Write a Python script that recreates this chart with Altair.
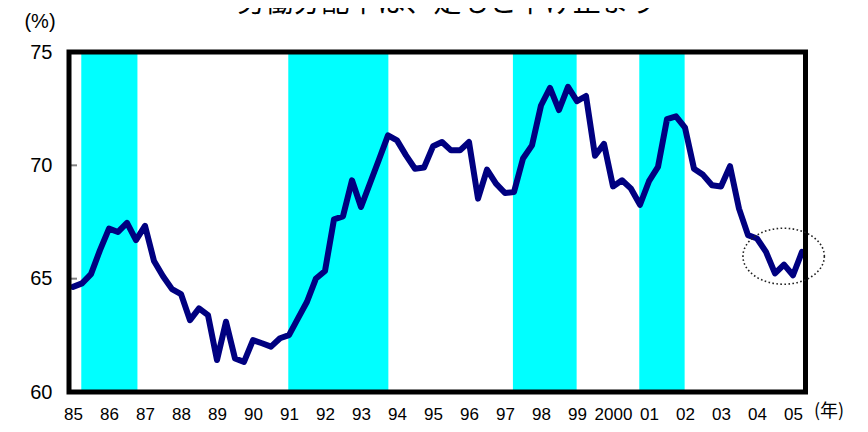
import altair as alt
import pandas as pd

title_text = "労働分配率は、足もと下げ止まり"
y_unit = "(%)"
x_unit = "(年)"

start_year = 1985
share = [64.64, 64.79, 65.20, 66.26, 67.21, 67.06, 67.46, 66.70, 67.33, 65.78,
         65.11, 64.54, 64.32, 63.17, 63.69, 63.39, 61.41, 63.10, 61.48, 61.33,
         62.29, 62.15, 62.00, 62.37, 62.51, 63.25, 63.98, 65.01, 65.34, 67.62,
         67.75, 69.34, 68.16, 69.21, 70.26, 71.32, 71.10, 70.44, 69.85, 69.90,
         70.84, 71.03, 70.66, 70.66, 71.03, 68.53, 69.81, 69.19, 68.78, 68.82,
         70.30, 70.88, 72.64, 73.42, 72.44, 73.46, 72.83, 73.06, 70.42, 70.95,
         69.07, 69.34, 68.97, 68.26, 69.30, 69.93, 72.04, 72.16, 71.66, 69.85,
         69.58, 69.12, 69.07, 69.96, 68.09, 66.92, 66.77, 66.18, 65.23, 65.62,
         65.15, 66.18]
quarters = [f"{start_year + i // 4}Q{i % 4 + 1}" for i in range(len(share))]

year_ticks = list(range(1985, 2006))
year_labels = ["85", "86", "87", "88", "89", "90", "91", "92", "93", "94", "95",
               "96", "97", "98", "99", "2000", "01", "02", "03", "04", "05"]
y_ticks = [60, 65, 70, 75]

band_start = [1985.23, 1990.98, 1997.22, 2000.73]
band_end = [1986.79, 1993.76, 1998.99, 2001.99]

circle_year = [2004.74]
circle_value = [65.99]

W, H = 729, 340

df = pd.DataFrame({"q": quarters, "v": share})
df["t"] = df["q"].str[:4].astype(int) + (df["q"].str[-1].astype(int) - 1) / 4
bands = pd.DataFrame({"t": band_start, "e": band_end})
ticks_df = pd.DataFrame({"v": y_ticks[1:-1]})
circ = pd.DataFrame({"t": circle_year, "v": circle_value})

xscale = alt.Scale(domain=[1985, 2005.25], nice=False, zero=False)
yscale = alt.Scale(domain=[60, 75], nice=False, zero=False)

label_arr = "[" + ",".join(f"'{s}'" for s in year_labels) + "]"
label_expr = f"{label_arr}[datum.value - {year_ticks[0]}]"

num_font = "Liberation Sans"
xaxis = alt.Axis(
    values=year_ticks, labelExpr=label_expr, title=None, grid=False,
    domain=False, ticks=False, labelPadding=14, labelFontSize=17,
    labelFont=num_font, labelColor="black", labelOverlap=False,
    labelFlush=False)
yaxis = alt.Axis(
    values=y_ticks, title=None, grid=False, domain=False, ticks=False,
    labelPadding=21, labelFontSize=20, labelFont=num_font,
    labelColor="black")

X = alt.X("t:Q", scale=xscale, axis=xaxis)
Y = alt.Y("v:Q", scale=yscale, axis=yaxis)

band_layer = alt.Chart(bands).mark_rect(color="#00FFFF").encode(
    x=X, x2="e:Q", y=alt.value(0), y2=alt.value(H),
)

tick_layer = alt.Chart(ticks_df).mark_rule(color="#808080", strokeWidth=2).encode(
    y=Y, x=alt.value(-3), x2=alt.value(4),
)

line_layer = alt.Chart(df).mark_line(
    color="#000080", strokeWidth=6, strokeJoin="round", strokeCap="round"
).encode(x=X, y=Y)

frame_layer = alt.Chart(pd.DataFrame({"a": [0]})).mark_rect(
    fillOpacity=0, stroke="black", strokeWidth=5
).encode(
    x=alt.value(-4), x2=alt.value(W + 3.5), y=alt.value(0), y2=alt.value(H)
)

ellipse_path = ("M 1 0 C 1 0.38 0.5523 0.688 0 0.688 "
                "C -0.5523 0.688 -1 0.38 -1 0 "
                "C -1 -0.38 -0.5523 -0.688 0 -0.688 "
                "C 0.5523 -0.688 1 -0.38 1 0 Z")
circle_layer = alt.Chart(circ).mark_point(
    shape=ellipse_path, filled=False, stroke="#222222", strokeWidth=1.6,
    strokeDash=[1.6, 2.4], size=6626, opacity=1
).encode(x=X, y=Y)

title_layer = alt.Chart(pd.DataFrame({"s": [title_text]})).mark_text(
    font="Noto Sans CJK JP", fontSize=28, color="black", align="center",
    baseline="alphabetic"
).encode(text="s:N", x=alt.value(374), y=alt.value(-40))

yunit_layer = alt.Chart(pd.DataFrame({"s": [y_unit]})).mark_text(
    font="Liberation Sans", fontSize=20, color="black", align="center",
    baseline="middle"
).encode(text="s:N", x=alt.value(-33), y=alt.value(-30))

xunit_layer = alt.Chart(pd.DataFrame({"s": [x_unit]})).mark_text(
    font="Noto Sans CJK JP", fontSize=18, color="black", align="center",
    baseline="middle"
).encode(text="s:N", x=alt.value(756), y=alt.value(H + 20))

chart = alt.layer(
    band_layer, tick_layer, line_layer, frame_layer, circle_layer,
    title_layer, yunit_layer, xunit_layer
).properties(
    width=W, height=H,
    autosize=alt.AutoSizeParams(type="none"),
    padding={"left": 65, "top": 44, "right": 55, "bottom": 32},
    background="white",
).configure_view(strokeWidth=0)

chart.save("out.html", embed_options={"renderer": "svg", "actions": False})
